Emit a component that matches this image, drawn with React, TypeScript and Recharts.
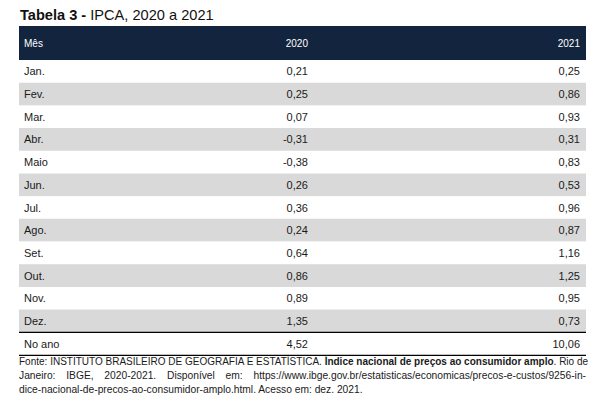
import React from "react";
import { BarChart, Bar, XAxis, YAxis, Cell, LabelList } from "recharts";

const months = ["Jan.", "Fev.", "Mar.", "Abr.", "Maio", "Jun.", "Jul.", "Ago.", "Set.", "Out.", "Nov.", "Dez.", "No ano"];
const ipca2020 = [0.21, 0.25, 0.07, -0.31, -0.38, 0.26, 0.36, 0.24, 0.64, 0.86, 0.89, 1.35, 4.52];
const ipca2021 = [0.25, 0.86, 0.93, 0.31, 0.83, 0.53, 0.96, 0.87, 1.16, 1.25, 0.95, 0.73, 10.06];
const headers = ["Mês", "2020", "2021"];

const fmt = (v: number) => v.toFixed(2).replace(".", ",");

const data = months.map((m, i) => ({ mes: m, row: 1, a: ipca2020[i], b: ipca2021[i] }));

const FONT = "'Liberation Sans', Arial, sans-serif";
const NAVY = "#13243f";
const GREY = "#d9d9d9";
const HEADER_H = 34;

const renderRow = (props: any) => {
  const { x, y, width, height, index } = props;
  const cy = y + height / 2;
  const col2020 = x + width * 0.5097;
  const colRight = x + width - 6;
  const d = data[index];
  return (
    <g key={`row-${index}`}>
      {index === 0 && (
        <g>
          <rect x={x} y={y - HEADER_H} width={width} height={HEADER_H} fill={NAVY} />
          <text x={x + 5} y={y - HEADER_H / 2} dy="0.35em" fill="#fff" fontSize={10} fontFamily={FONT}>{headers[0]}</text>
          <text x={col2020} y={y - HEADER_H / 2} dy="0.35em" fill="#fff" fontSize={10} fontFamily={FONT} textAnchor="end">{headers[1]}</text>
          <text x={colRight} y={y - HEADER_H / 2} dy="0.35em" fill="#fff" fontSize={10} fontFamily={FONT} textAnchor="end">{headers[2]}</text>
        </g>
      )}
      {index === months.length - 1 && (
        <g>
          <line x1={x} x2={x + width} y1={y} y2={y} stroke="#000" strokeWidth={1.3} />
          <line x1={x} x2={x + width} y1={y + height} y2={y + height} stroke="#000" strokeWidth={1.3} />
        </g>
      )}
      <text x={x + 5} y={cy} dy="0.35em" fill="#1a1a1a" fontSize={11} fontFamily={FONT}>{d.mes}</text>
      <text x={col2020} y={cy} dy="0.35em" fill="#1a1a1a" fontSize={11} fontFamily={FONT} textAnchor="end">{fmt(d.a)}</text>
      <text x={colRight} y={cy} dy="0.35em" fill="#1a1a1a" fontSize={11} fontFamily={FONT} textAnchor="end">{fmt(d.b)}</text>
    </g>
  );
};

const lineStyle: React.CSSProperties = {
  textAlign: "justify",
  textAlignLast: "justify" as any,
  whiteSpace: "nowrap",
  height: 13.8,
};

export default function App() {
  return (
    <div style={{ position: "absolute", left: 0, top: 0, width: 615, height: 410, background: "#fff", fontFamily: FONT }}>
      <div style={{ position: "absolute", left: 20, top: 7, fontSize: 14.6, color: "#111", whiteSpace: "nowrap" }}>
        <b>Tabela 3 -</b> IPCA, 2020 a 2021
      </div>
      <BarChart
        width={615}
        height={410}
        data={data}
        layout="vertical"
        margin={{ top: 60, right: 29, bottom: 55, left: 19 }}
        barCategoryGap={0}
      >
        <XAxis type="number" domain={[0, 1]} hide />
        <YAxis type="category" dataKey="mes" hide />
        <Bar dataKey="row" isAnimationActive={false}>
          {data.map((_, i) => (
            <Cell key={i} fill={i < 12 && i % 2 === 1 ? GREY : "#ffffff"} />
          ))}
          <LabelList dataKey="row" content={renderRow} />
        </Bar>
      </BarChart>
      <div style={{ position: "absolute", left: 19, top: 355, width: 567, fontSize: 10.25, color: "#1a1a1a", lineHeight: "13.8px" }}>
        <div style={{ ...lineStyle, fontSize: 10 }}>
          Fonte: INSTITUTO BRASILEIRO DE GEOGRAFIA E ESTATÍSTICA. <b>Índice nacional de preços ao consumidor amplo</b>. Rio de
        </div>
        <div style={lineStyle}>
          Janeiro: IBGE, 2020-2021. Disponível em: https://www.ibge.gov.br/estatisticas/economicas/precos-e-custos/9256-in-
        </div>
        <div style={{ whiteSpace: "nowrap", height: 13.8 }}>
          dice-nacional-de-precos-ao-consumidor-amplo.html. Acesso em: dez. 2021.
        </div>
      </div>
    </div>
  );
}
